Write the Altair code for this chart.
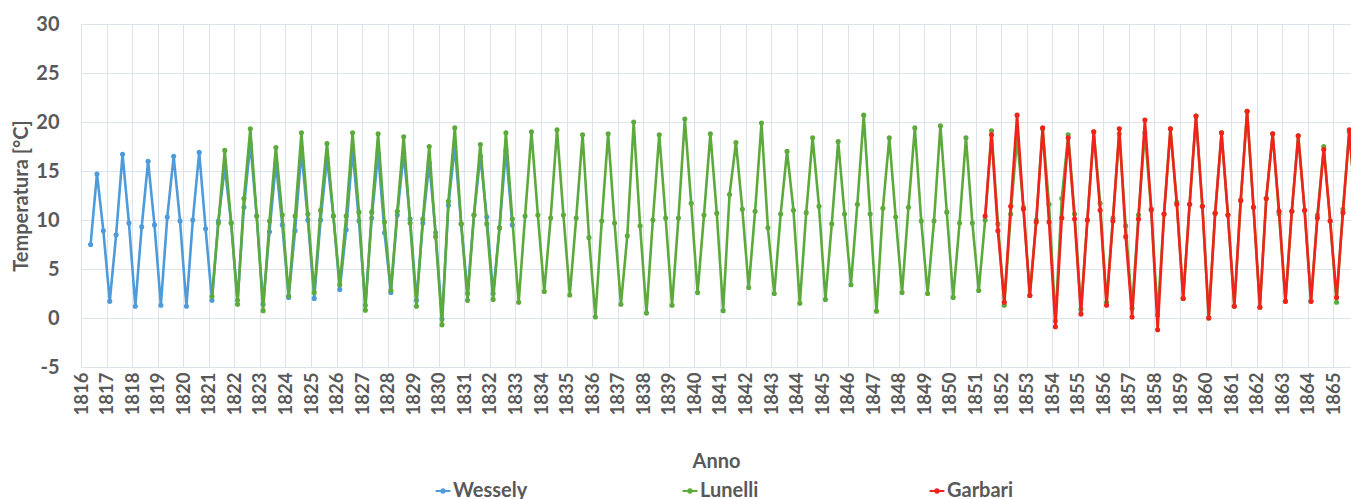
import altair as alt
import pandas as pd

# Seasonal temperatures; first value = spring 1816, one value per season (4 per year)
START_YEAR = 1816.375
STEP = 0.25

wessely_start = 0
wessely = [7.5, 14.7, 8.9, 1.7, 8.5, 16.7, 9.7, 1.2, 9.3, 16.0, 9.5, 1.3,
           10.3, 16.5, 9.9, 1.2, 10.0, 16.9, 9.1, 1.8, 9.9, 15.4, 9.7, 1.8,
           11.3, 17.8, 10.4, 1.4, 8.8, 15.8, 9.5, 2.1, 8.9, 17.0, 10.0, 2.0,
           10.0, 16.3, 10.4, 2.9, 9.0, 17.1, 9.9, 1.3, 10.2, 16.8, 8.7, 2.6,
           10.5, 16.8, 10.1, 1.8, 9.7, 15.8, 8.7, -0.1, 11.5, 17.5, 9.6, 2.5,
           10.5, 16.5, 10.3, 2.5, 9.2, 17.1, 9.5]

lunelli_start = 19
lunelli = [2.2, 9.7, 17.1, 9.7, 1.4, 12.2, 19.3, 10.4, 0.75, 9.9, 17.4, 10.5,
           2.25, 10.4, 18.9, 10.6, 2.6, 11.0, 17.8, 10.4, 3.4, 10.4, 18.9, 10.8,
           0.8, 10.8, 18.8, 9.8, 2.8, 10.9, 18.5, 9.7, 1.2, 10.1, 17.5, 8.3,
           -0.7, 11.9, 19.4, 9.6, 1.8, 10.5, 17.7, 9.6, 1.9, 9.2, 18.9, 10.1,
           1.6, 10.4, 19.0, 10.5, 2.7, 10.2, 19.2, 10.5, 2.35, 10.2, 18.7, 8.2,
           0.1, 9.9, 18.8, 9.7, 1.4, 8.4, 20.0, 9.4, 0.5, 10.0, 18.7, 10.2,
           1.3, 10.2, 20.3, 11.7, 2.6, 10.5, 18.8, 10.7, 0.75, 12.6, 17.9, 11.1,
           3.1, 10.9, 19.9, 9.2, 2.5, 10.6, 17.0, 11.0, 1.5, 10.75, 18.4, 11.4,
           1.9, 9.6, 18.0, 10.6, 3.4, 11.6, 20.7, 10.6, 0.7, 11.2, 18.4, 10.3,
           2.6, 11.3, 19.4, 9.9, 2.5, 9.9, 19.6, 10.8, 2.1, 9.7, 18.4, 9.7,
           2.8, 10.0, 19.1, 9.6, 1.3, 10.6, 18.4, 11.3, 2.3, 10.0, 19.3, 11.6,
           -0.3, 12.2, 18.7, 10.6, 0.9, 10.0, 19.0, 11.7, 1.6, 10.2, 18.8, 9.4,
           1.0, 10.5, 18.9, 11.0, 0.3, 10.6, 19.3, 11.8, 2.0, 11.6, 20.6, 11.4,
           0.0, 10.7, 18.9, 10.5, 1.2, 12.0, 21.1, 11.3, 1.1, 12.2, 18.8, 10.6,
           1.7, 10.9, 18.6, 11.0, 1.7, 10.5, 17.5, 9.9, 1.6, 11.1, 19.0, 11.0]

garbari_start = 140
garbari = [10.4, 18.7, 8.9, 1.6, 11.4, 20.7, 11.1, 2.3, 9.8, 19.4, 9.8, -0.9,
           10.2, 18.4, 10.1, 0.4, 10.0, 19.0, 11.0, 1.3, 9.9, 19.3, 8.3, 0.1,
           10.1, 20.2, 11.1, -1.2, 10.6, 19.3, 11.6, 2.0, 11.6, 20.6, 11.4, 0.0,
           10.7, 18.9, 10.5, 1.2, 12.0, 21.1, 11.3, 1.1, 12.2, 18.8, 10.9, 1.7,
           10.9, 18.6, 11.0, 1.7, 10.2, 17.2, 9.9, 2.1, 10.75, 19.2, 11.0]

series_names = ["Wessely", "Lunelli", "Garbari"]
series_colors = ["#4E9BDB", "#5DAA3C", "#F2221B"]
year_ticks = list(range(1816, 1866))
y_ticks = [-5, 0, 5, 10, 15, 20, 25, 30]


def frame(name, start, values):
    return pd.DataFrame({
        "Anno": [START_YEAR + STEP * (start + k) for k in range(len(values))],
        "Temperatura": values,
        "Serie": name,
    })


frames = [frame("Wessely", wessely_start, wessely),
          frame("Lunelli", lunelli_start, lunelli),
          frame("Garbari", garbari_start, garbari)]

FONT = "Lato"
GREY = "#595959"
GRID = "#dce3ea"

x_enc = alt.X("Anno:Q",
              scale=alt.Scale(domain=[1816, 1865.69], nice=False, zero=False),
              axis=alt.Axis(values=year_ticks, format="d", labelAngle=270,
                            title="Anno", grid=True, gridColor=GRID,
                            domain=False, ticks=False, labelPadding=5,
                            titlePadding=37))
y_enc = alt.Y("Temperatura:Q",
              scale=alt.Scale(domain=[-5, 30], nice=False),
              axis=alt.Axis(values=y_ticks, title="Temperatura [°C]",
                            labelExpr="datum.value < 0 ? '-' + abs(datum.value) : datum.label",
                            grid=True, gridColor=GRID, domain=False,
                            ticks=False, labelPadding=22, titlePadding=4))
color_enc = alt.Color("Serie:N",
                      scale=alt.Scale(domain=series_names, range=series_colors),
                      legend=alt.Legend(orient="none", legendX=352, legendY=457,
                                        direction="horizontal", columns=3,
                                        gridAlign="all", columnPadding=150,
                                        title=None,
                                        symbolType="M-1,0L1,0M-0.22,0A0.22,0.22,0,1,0,0.22,0A0.22,0.22,0,1,0,-0.22,0",
                                        symbolSize=220, symbolStrokeWidth=2,
                                        labelOffset=0))

layers = []
for df in frames:
    base = alt.Chart(df).encode(x=x_enc, y=y_enc, color=color_enc)
    layers.append(base.mark_line(strokeWidth=2.6, clip=True))
    layers.append(base.mark_point(filled=True, size=26, opacity=1, clip=True))

chart = alt.layer(*layers).properties(
    width=1270, height=343,
    autosize=alt.AutoSizeParams(type="none"),
    padding={"left": 81, "top": 24, "right": 0, "bottom": 140},
).configure_view(stroke=None).configure_axis(
    labelFont=FONT, titleFont=FONT, labelColor=GREY, titleColor=GREY,
    labelFontWeight="bold", titleFontWeight="bold",
    titleFontSize=20,
).configure_axisY(labelFontSize=20).configure_axisX(labelFontSize=18.5).configure_legend(
    labelFont=FONT, labelFontSize=20, labelFontWeight="bold", labelColor=GREY
)

chart.save("out.html", embed_options={"renderer": "svg", "actions": False})
